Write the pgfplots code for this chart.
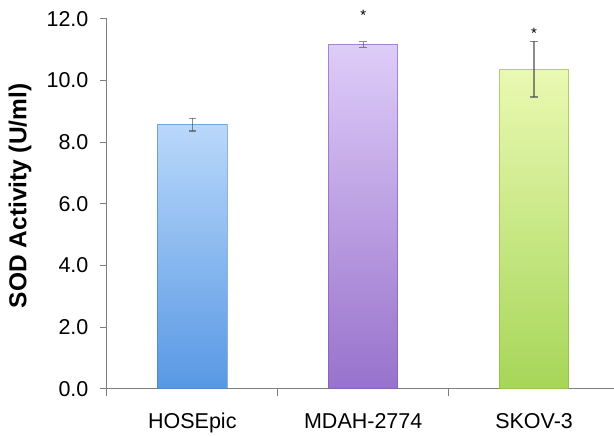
\documentclass[border=0pt]{standalone}
\usepackage{pgfplots}
\pgfplotsset{compat=1.18}
\usepackage{fontspec}
\setmainfont{Liberation Sans}
\definecolor{axgray}{HTML}{7F7F7F}
\definecolor{errgray}{HTML}{404040}
\begin{document}
\begin{tikzpicture}
\begin{axis}[
  name=ax,
  scale only axis,
  width=507pt, height=370pt,
  xmin=-0.5, xmax=2.465,
  ymin=0, ymax=12,
  clip=false,
  axis lines*=left,
  axis line style={axgray, line width=1pt},
  ytick={0,2,4,6,8,10,12},
  tick label style={font=\fontsize{21.5}{24}\selectfont, text=black},
  yticklabel style={xshift=-8pt, /pgf/number format/.cd, fixed, fixed zerofill, precision=1, assume math mode=true},
  ytick style={axgray, line width=1pt},
  major tick length=7pt,
  tick align=outside,
  xtick={0,1,2},
  xticklabels={HOSEpic, MDAH-2774, SKOV-3},
  xtick style={draw=none},
  extra x ticks={-0.5,0.5,1.5,2.5},
  extra x tick labels={},
  extra x tick style={xtick style={draw=axgray, line width=1pt}},
  xticklabel style={yshift=-14pt},
  ylabel={\textbf{SOD Activity (U/ml)}},
  every axis y label/.style={at={(axis description cs:0,0.5)}, xshift=-87pt, yshift=8pt, rotate=90, anchor=center, font=\fontsize{24.5}{28}\selectfont},
  ybar, bar width=0.405, bar shift=0pt,
  error bars/y dir=both, error bars/y explicit,
  error bars/error bar style={errgray, line width=1.3pt},
  error bars/error mark options={errgray, rotate=90, mark size=3.8pt, line width=1.3pt},
]
\addplot[draw={rgb,255:red,70;green,125;blue,195}, draw opacity=0.6, line width=0.8pt, top color={rgb,255:red,185;green,216;blue,250}, bottom color={rgb,255:red,88;green,152;blue,228}]
  coordinates {(0,8.57) +- (0,0.21)};
\addplot[draw={rgb,255:red,125;green,90;blue,175}, draw opacity=0.6, line width=0.8pt, top color={rgb,255:red,222;green,204;blue,248}, bottom color={rgb,255:red,152;green,114;blue,204}]
  coordinates {(1,11.17) +- (0,0.09)};
\addplot[draw={rgb,255:red,140;green,180;blue,70}, draw opacity=0.6, line width=0.8pt, top color={rgb,255:red,234;green,249;blue,178}, bottom color={rgb,255:red,166;green,214;blue,88}]
  coordinates {(2,10.37) +- (0,0.9)};
\addplot[draw=none, mark=none, ybar=0pt, fill=none, error bars/y dir=none,
  nodes near coords={*}, every node near coord/.append style={anchor=center, font=\fontsize{15}{17}\selectfont, text=black}]
  coordinates {(1,12.11) (2,11.55)};
\end{axis}
\path ([xshift=-107pt,yshift=-48pt]ax.south west) rectangle ([yshift=19pt]ax.north east);
\end{tikzpicture}
\end{document}
